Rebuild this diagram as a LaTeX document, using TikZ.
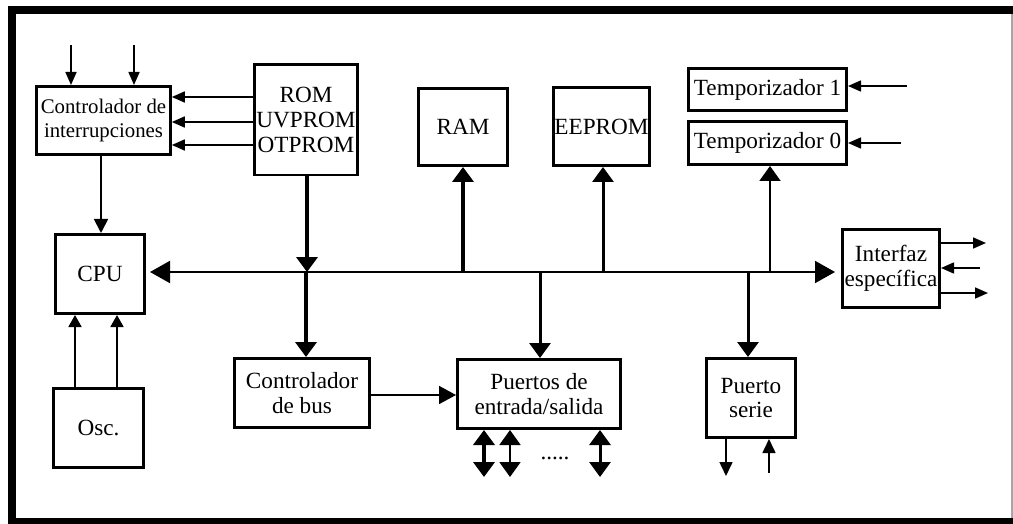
\documentclass[tikz,border=0pt]{standalone}
\usepackage{fontspec}
\setmainfont{Liberation Serif}
\usetikzlibrary{arrows.meta}
\newcommand\txtfont{\fontsize{11.6}{12.3}\selectfont}
\newcommand\smallfont{\fontsize{10.4}{11.8}\selectfont}
\begin{document}
\begin{tikzpicture}[x=0.5pt,y=-0.5pt,
  box/.style={draw, line width=1.3pt, inner sep=0pt, align=center, font=\txtfont},
  bigtip/.tip={Triangle[length=10pt,width=11pt]},
  midtip/.tip={Triangle[length=7.5pt,width=10.5pt]},
  smalltip/.tip={Triangle[length=6.5pt,width=5.5pt]},
  busline/.style={line width=1pt, {bigtip}-{bigtip}},
  heavy/.style={line width=2.3pt, -{midtip}},
  medium/.style={line width=1.5pt, -{midtip}},
  light/.style={line width=1pt, -{midtip}},
  thinline/.style={line width=0.8pt, -{smalltip}},
  oscline/.style={line width=0.9pt, -{Triangle[length=6pt,width=6.5pt]}},
  iolink/.style={{midtip}-{midtip}},
]
\useasboundingbox (0,0) rectangle (1013,524);
% outer frame
\fill[black] (8,6) rectangle (1013,14);
\fill[black] (8,6) rectangle (16,524);
\fill[black] (8,518) rectangle (1013,524);
\draw[black!35, line width=0.6pt] (1012,14) -- (1012,518);

% blocks
\node[box, font=\smallfont, minimum width=67pt, minimum height=34.2pt] (intc) at (103.5,120.5) {Controlador de\\interrupciones};
\node[box, minimum width=51.7pt, minimum height=55.2pt] (rom) at (306,120) {ROM\\UVPROM\\OTPROM};
\node[box, minimum width=44.7pt, minimum height=38.7pt] (ram) at (463,127) {RAM};
\node[box, minimum width=48.2pt, minimum height=39.2pt] (eeprom) at (601.5,126.5) {EEPROM};
\node[box, minimum width=79.2pt, minimum height=21.2pt] (t1) at (767.5,89.5) {Temporizador 1};
\node[box, minimum width=79.2pt, minimum height=21.7pt] (t0) at (767.5,143) {Temporizador 0};
\node[box, minimum width=44.7pt, minimum height=39.7pt] (cpu) at (100,274) {CPU};
\node[box, minimum width=45.2pt, minimum height=39.7pt] (osc) at (98.5,428) {Osc.};
\node[box, minimum width=67.7pt, minimum height=34.7pt] (ctrlbus) at (302,393) {Controlador\\de bus};
\node[box, minimum width=81.7pt, minimum height=34.7pt] (ports) at (539,394) {Puertos de\\entrada/salida};
\node[box, minimum width=44.7pt, minimum height=39.7pt] (serie) at (751,398) {Puerto\\serie};
\node[box, minimum width=48.7pt, minimum height=39.2pt] (iface) at (891,268.5) {Interfaz\\específica};
\node[font=\txtfont, anchor=base] (dots) at (555,459) {.....};

% free ends of external signals
\coordinate (busy) at (0,272);
\coordinate (irqA) at (71,45);
\coordinate (irqB) at (134,45);
\coordinate (tmA) at (907,86);
\coordinate (tmB) at (901,143);
\coordinate (ifA) at (986,243);
\coordinate (ifB) at (980,268);
\coordinate (ifC) at (988,293);
\coordinate (ioA) at (484,477);
\coordinate (ioB) at (510,477);
\coordinate (ioC) at (600,477);
\coordinate (srA) at (726,476);
\coordinate (srB) at (769,473);

% system bus
\draw[busline, shorten <=2pt, shorten >=3pt] (cpu.east |- busy) -- (iface.west |- busy);

% bus taps
\draw[heavy] (rom.south -| 307,0) -- (307,272);
\draw[heavy] (306,272) -- (ctrlbus.north -| 306,0);
\draw[heavy] (463,272) -- (ram.south);
\draw[medium] (603,272) -- (eeprom.south -| 603,0);
\draw[light] (770,272) -- (t0.south -| 770,0);
\draw[medium] (540,272) -- (ports.north -| 540,0);
\draw[medium] (748,272) -- (serie.north -| 748,0);

% interrupt controller
\draw[thinline] (irqA) -- (irqA |- intc.north);
\draw[thinline] (irqB) -- (irqB |- intc.north);
\draw[thinline] (rom.west |- 0,97) -- (intc.east |- 0,97);
\draw[thinline] (rom.west |- 0,122) -- (intc.east |- 0,122);
\draw[thinline] (rom.west |- 0,145) -- (intc.east |- 0,145);
\draw[line width=0.9pt, -{Triangle[length=7pt,width=7pt]}] (intc.south -| 101,0) -- (cpu.north -| 101,0);

% oscillator
\draw[oscline] (osc.north -| 75,0) -- (cpu.south -| 75,0);
\draw[oscline] (osc.north -| 117,0) -- (cpu.south -| 117,0);

% bus controller to ports
\draw[line width=0.9pt, -{Triangle[length=8.5pt,width=9pt]}] (ctrlbus.east |- 0,395) -- (ports.west |- 0,395);

% timers
\draw[thinline] (tmA) -- (t1.east |- tmA);
\draw[thinline] (tmB) -- (t0.east |- tmB);

% specific interface
\draw[thinline] (iface.east |- ifA) -- (ifA);
\draw[thinline] (ifB) -- (iface.east |- ifB);
\draw[thinline] (iface.east |- ifC) -- (ifC);

% parallel ports
\draw[iolink, line width=2pt] (ioA |- ports.south) -- (ioA);
\draw[iolink, line width=1pt] (ioB |- ports.south) -- (ioB);
\draw[iolink, line width=1.5pt] (ioC |- ports.south) -- (ioC);

% serial port
\draw[thinline, -{Triangle[length=7pt,width=6.5pt]}] (srA |- serie.south) -- (srA);
\draw[thinline, -{Triangle[length=7pt,width=6.5pt]}] (srB) -- (srB |- serie.south);
\end{tikzpicture}
\end{document}
